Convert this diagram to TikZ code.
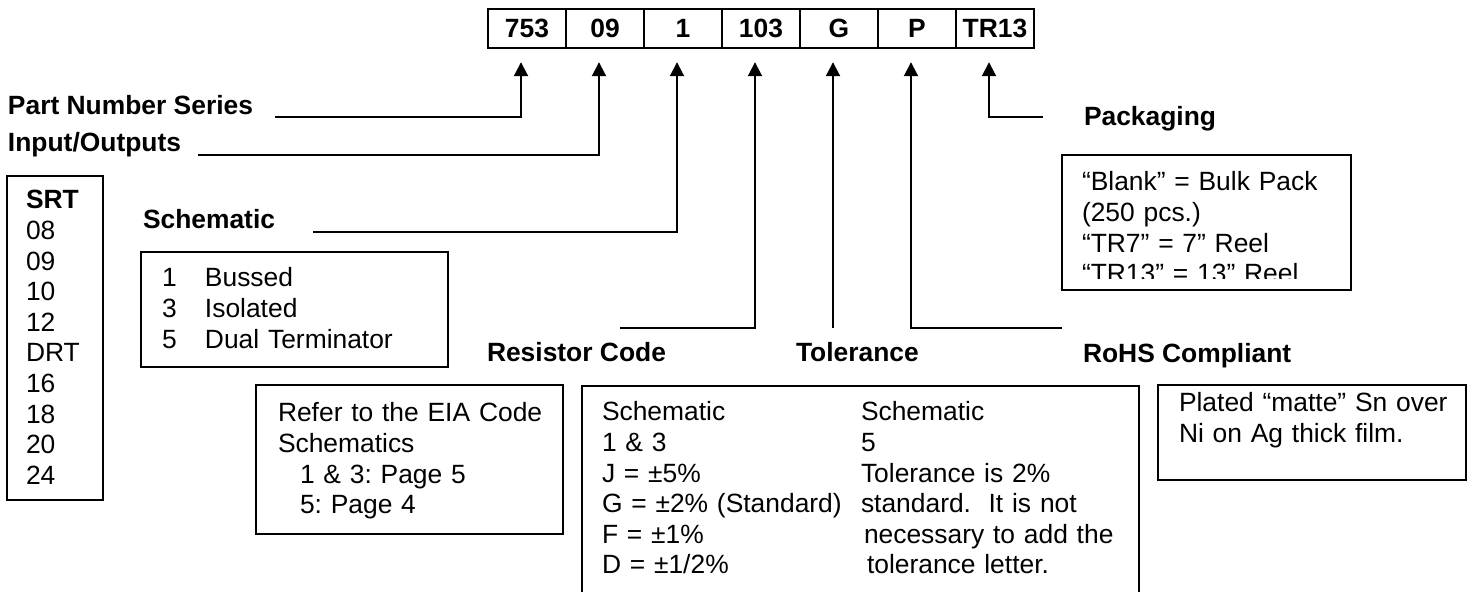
\documentclass[tikz,border=0pt]{standalone}
\usepackage{fontspec}
\setmainfont{Liberation Sans}
\usetikzlibrary{arrows.meta}
\newcommand{\pnfont}{\fontsize{13.2}{15.3}\selectfont\frenchspacing}
\tikzset{
  codecell/.style={draw,line width=1.2pt,minimum width=39pt,minimum height=19.5pt,inner sep=0pt,font=\pnfont\bfseries},
  fieldlabel/.style={anchor=base west,inner sep=0pt,font=\pnfont\bfseries},
  boxtext/.style={anchor=base west,inner sep=0pt,align=left,text width=#1,font=\pnfont},
  link/.style={->,shorten >=6.5pt},
}
\begin{document}
\begin{tikzpicture}[x=0.5pt,y=-0.5pt,>={Triangle[length=7pt,width=7pt]},line width=1pt]
\useasboundingbox (0,0) rectangle (1472,592);
%%
\foreach \t [count=\i] in {753,09,1,103,G,P,TR13}
  \node[codecell] (c\i) at ({527+78*(\i-1)},28.5) {\t};
%
\node[fieldlabel] (series) at (7,115) {Part Number Series};
\node[fieldlabel] (io) at (7,152) {Input/Outputs};
\node[fieldlabel] (schem) at (142,229) {Schematic};
\node[fieldlabel] (rescode) at (486,362) {Resistor Code};
\node[fieldlabel] (tol) at (795,362) {Tolerance};
\node[fieldlabel] (rohs) at (1082,363) {RoHS Compliant};
\node[fieldlabel] (pack) at (1083,126) {Packaging};
%
\coordinate (seriesend) at (275,117);
\coordinate (ioend) at (198,155);
\coordinate (schemend) at (313,232);
\coordinate (rescodeend) at (620,328);
\coordinate (tolend) at (833,328);
\coordinate (rohsend) at (1062,328);
\coordinate (packend) at (1043,117);
\draw[link] (seriesend) -| ([xshift=-3pt]c1.south);
\draw[link] (ioend) -| ([xshift=-3pt]c2.south);
\draw[link] (schemend) -| ([xshift=-3pt]c3.south);
\draw[link] (rescodeend) -| ([xshift=-3pt]c4.south);
\draw[link] (tolend) -- (tolend |- c5.south);
\draw[link] (rohsend) -| ([xshift=-3pt]c6.south);
\draw[link] (packend) -| ([xshift=-3pt]c7.south);
%
\draw (7,176) rectangle (103,500);
\node[boxtext=40pt] (srtlist) at (25,209) {\textbf{SRT}\\08\\09\\10\\12\\DRT\\16\\18\\20\\24};
\draw (141,252) rectangle (448,367);
\node[boxtext=140pt] (schemlist) at (161,287) {\makebox[21.5pt][l]{1}Bussed\\\makebox[21.5pt][l]{3}Isolated\\\makebox[21.5pt][l]{5}Dual Terminator};
\draw (256,385) rectangle (563,534);
\node[boxtext=140pt] (eianote) at (277,422) {Refer to the EIA Code\\Schematics\\\hspace*{11pt}1 \& 3: Page 5\\\hspace*{11pt}5: Page 4};
\draw (582,592) |- (1139,386) -- (1139,592);
\node[boxtext=125pt] (tolcodes) at (601,421) {Schematic\\1 \& 3\\J = ±5\%\\G = ±2\% (Standard)\\F = ±1\%\\D = ±1/2\%};
\node[boxtext=135pt] (tolnote) at (860,421) {Schematic\\5\\Tolerance is 2\%\\standard.\ \ It is not\\\hspace*{1.5pt}necessary to add the\\\hspace*{3pt}tolerance letter.};
\draw (1158,385) rectangle (1466,480);
\node[boxtext=145pt] (rohsnote) at (1178,412) {Plated “matte” Sn over\\Ni on Ag thick film.};
\draw (1062,155) rectangle (1351,290);
\begin{scope}
\clip (1062,155) rectangle (1351,279);
\node[boxtext=140pt] (packnote) at (1081,191) {“Blank” = Bulk Pack\\(250 pcs.)\\“TR7” = 7” Reel\\“TR13” = 13” Reel};
\end{scope}
%
\end{tikzpicture}
\end{document}
